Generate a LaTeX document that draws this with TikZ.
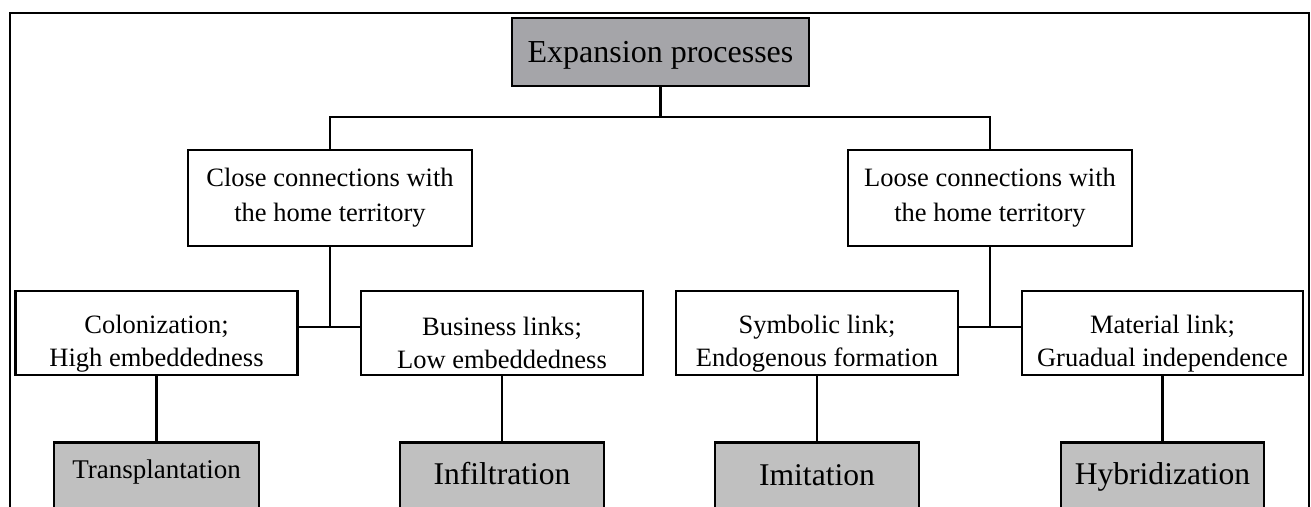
\documentclass[tikz,border=0pt]{standalone}
\usepackage{fontspec}
\setmainfont{Liberation Serif}
\usetikzlibrary{calc}
\definecolor{topgray}{HTML}{A5A5A9}
\definecolor{botgray}{HTML}{C0C0C0}
\tikzset{
  conn/.style={draw=black, line width=2.6pt},
  framel/.style={draw=black, line width=2.2pt},
  midbox/.style={draw=black, line width=2.6pt, rectangle, inner sep=0pt, align=center,
    fill=white, font=\fontsize{26.5}{35}\selectfont},
  lowbox/.style={midbox, font=\fontsize{26.5}{33}\selectfont},
  headbox/.style={midbox, fill=topgray, font=\fontsize{32}{38}\selectfont},
  botbox/.style={draw=black, line width=2.6pt, rectangle, inner sep=0pt, fill=botgray,
    anchor=north, text depth=50pt, font=\fontsize{31.6}{38}\selectfont},
}
\newcommand{\lowstrut}{\rule{0pt}{38.8pt}}
\begin{document}
\begin{tikzpicture}[x=1pt,y=-1pt]
\useasboundingbox (0,0) rectangle (1311,506);
\clip (0,0) rectangle (1311,506);
\fill[white] (0,0) rectangle (1311,506);
% frame
\draw[framel] (10,530) -- (10,13) -- (1309,13) -- (1309,530);

% nodes
\node[headbox, minimum width=297pt, minimum height=68pt] (top) at (660.5,52) {\rule{0pt}{27pt}Expansion processes};
\node[midbox, minimum width=284pt, minimum height=96pt] (close) at (330,198) {Close connections with\\the home territory};
\node[midbox, minimum width=284pt, minimum height=96pt] (loose) at (990,198) {Loose connections with\\the home territory};

\node[lowbox, minimum width=282pt, minimum height=84pt] (colon) at (156.5,333) {\lowstrut Colonization;\\High embeddedness};
\node[lowbox, minimum width=282pt, minimum height=84pt] (busi) at (502,333) {\lowstrut Business links;\\Low embeddedness};
\node[lowbox, minimum width=282pt, minimum height=84pt] (symb) at (817,333) {\lowstrut Symbolic link;\\Endogenous formation};
\node[lowbox, minimum width=281pt, minimum height=84pt] (mat) at (1162.5,333) {\lowstrut Material link;\\Gruadual independence};

\node[botbox, minimum width=205pt, text height=36pt, font=\fontsize{27}{32}\selectfont] (trans) at (156.5,441) {Transplantation};
\node[botbox, minimum width=204pt, text height=42pt] (infil) at (502,441) {Infiltration};
\node[botbox, minimum width=204pt, text height=43pt] (imit) at (817,441) {Imitation};
\node[botbox, minimum width=203pt, text height=42pt] (hybr) at (1162.5,441) {Hybridization};

% connectors
\coordinate (hbar) at (660,117);
\coordinate (jl) at (330,327);
\coordinate (jr) at (990,327);
\draw[conn] (top.south) -- (top.south |- hbar);
\draw[conn] (close.north) |- (loose.north |- hbar) -- (loose.north);

\draw[conn] (close.south) -- (close.south |- jl);
\draw[conn] (colon.east |- jl) -- (busi.west |- jl);
\draw[conn] (loose.south) -- (loose.south |- jr);
\draw[conn] (symb.east |- jr) -- (mat.west |- jr);

\draw[conn] (colon.south) -- (trans.north);
\draw[conn] (busi.south) -- (infil.north);
\draw[conn] (symb.south) -- (imit.north);
\draw[conn] (mat.south) -- (hybr.north);
\end{tikzpicture}
\end{document}
